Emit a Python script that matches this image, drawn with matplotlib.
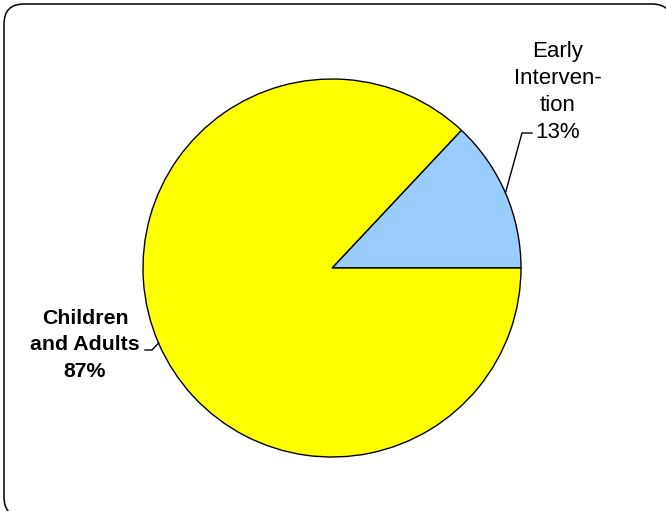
import numpy as np
import matplotlib
matplotlib.use("Agg")
import matplotlib.pyplot as plt
from matplotlib.patches import FancyBboxPatch

plt.rcParams["font.family"] = ["Liberation Sans", "DejaVu Sans"]

# data
labels = ["Early\nInterven-\ntion", "Children\nand Adults"]
shares = [13, 87]
colors = ["#99CCFF", "#FFFF00"]

W, H = 666, 511
fig = plt.figure(figsize=(W / 100, H / 100), dpi=100)
ax = fig.add_axes([0, 0, 1, 1])

def py(y):
    # pixel row -> data y
    return H - y

# outer frame (runs off the right and bottom edges)
frame = FancyBboxPatch((4, py(517)), 668, 513, boxstyle="round,pad=0,rounding_size=20",
                       fc="white", ec="black", lw=1.1, clip_on=False, zorder=0)
ax.add_patch(frame)

cx, cy, r = 332, py(268), 189
wedges, _ = ax.pie(shares, colors=colors, startangle=0, counterclock=True,
                   center=(cx, cy), radius=r, frame=True,
                   wedgeprops=dict(edgecolor="black", linewidth=1))
ax.set_xlim(0, W)
ax.set_ylim(0, H)
ax.set_aspect("equal")
ax.axis("off")

# labels with leader lines
angles = np.cumsum([0] + shares) / 100 * 360
mids = (angles[:-1] + angles[1:]) / 2

text_pos = [(558, py(92)), (85, py(345))]
elbows = [[(522, py(133)), (532, py(133))], [(152, py(350)), (145, py(350))]]
weights = ["normal", "bold"]
sizes = [16, 15.3]
spacing = [1.38, 1.5]

for lab, s, m, tp, el, w, fs, ls in zip(labels, shares, mids, text_pos, elbows,
                                        weights, sizes, spacing):
    ex = cx + r * np.cos(np.radians(m))
    ey = cy + r * np.sin(np.radians(m))
    xs = [ex] + [p[0] for p in el]
    ys = [ey] + [p[1] for p in el]
    ax.plot(xs, ys, color="black", lw=1)
    ax.text(tp[0], tp[1], f"{lab}\n{s}%", ha="center", va="center",
            fontsize=fs, fontweight=w, linespacing=ls)

fig.savefig("out.png", dpi=100)
